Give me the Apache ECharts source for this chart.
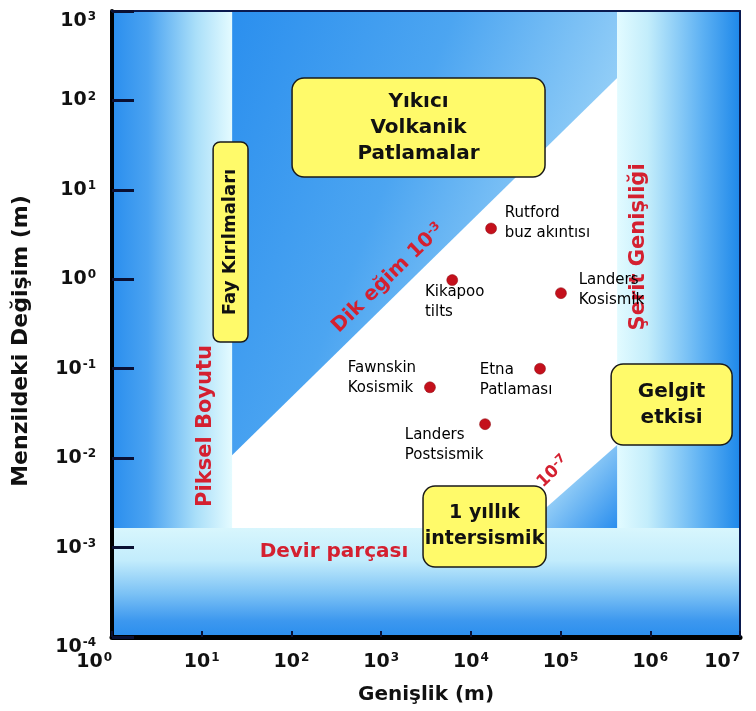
<!DOCTYPE html>
<html><head><meta charset="utf-8">
<script src="https://cdn.jsdelivr.net/npm/echarts@6/dist/echarts.min.js"></script>
<style>html,body{margin:0;padding:0;background:#fff}#c{width:756px;height:711px}</style>
</head><body><div id="c"></div>
<script>
// ---------- data ----------
const xTickExponents = [0, 1, 2, 3, 4, 5, 6, 7];
const yTickExponents = [-4, -3, -2, -1, 0, 1, 2, 3];
const pointNames  = ['Rutford\nbuz akıntısı', 'Kikapoo\ntilts', 'Landers\nKosismik', 'Fawnskin\nKosismik', 'Etna\nPatlaması', 'Landers\nPostsismik'];
const pointWidth  = [1.68e4, 6.2e3, 1.01e5, 3.5e3, 5.9e4, 1.44e4];   // Genişlik (m)
const pointChange = [3.7, 0.98, 0.70, 0.062, 0.10, 0.024];           // Menzildeki Değişim (m)

// region limits (data units)
const pixelSizeLimit  = 21.8;     // Piksel Boyutu (m)
const swathWidthLimit = 4.27e5;   // Şerit Genişliği (m)
const cycleSliceLimit = 1.66e-3;  // Devir parçası (m)
const steepSlopeLine  = [[21.8, 0.0108], [4.27e5, 178]];
const lowSlopeLine    = [[3.82e4, 1.66e-3], [4.27e5, 0.014]];

// annotation boxes (data units: [xmin, xmax, ymin, ymax])
const boxVolcano   = [101.6, 6.71e4, 13.9, 178];
const boxFault     = [13.4, 32.8, 0.199, 34.3];
const boxTide      = [3.66e5, 8.17e6, 0.0140, 0.113];
const boxInterseis = [2.93e3, 6.89e4, 6.07e-4, 4.88e-3];

// free text anchors (data units)
const txtPixel  = [10.9, 0.0229];
const txtSwath  = [7.31e5, 2.30];
const txtSteep  = [1194, 1.03];
const txtLow    = [8.25e4, 7.0e-3];
const txtCycle  = [298, 8.9e-4];

const xMin = 1, xMax = 1e7, yMin = 1e-4, yMax = 1e3;

// ---------- styles ----------
const FONT = '"DejaVu Sans", Arial, sans-serif';
const RED = '#d42030';
const G = echarts.graphic.LinearGradient;

const regions = [
  { pts: [[pixelSizeLimit, yMax], [swathWidthLimit, yMax], [swathWidthLimit, steepSlopeLine[1][1]], [pixelSizeLimit, steepSlopeLine[0][1]]],
    fill: new G(0, 0, 1, 0.35, [{offset: 0, color: '#2b8fee'}, {offset: 0.5, color: '#4ca5f1'}, {offset: 1, color: '#9fd5f8'}]) },
  { pts: [[xMin, cycleSliceLimit], [pixelSizeLimit, cycleSliceLimit], [pixelSizeLimit, yMax], [xMin, yMax]],
    fill: new G(0, 0, 1, 0, [{offset: 0, color: '#2a8eee'}, {offset: 0.3, color: '#4ba3f1'}, {offset: 0.7, color: '#aadff9'}, {offset: 1, color: '#e4fbff'}]) },
  { pts: [[swathWidthLimit, cycleSliceLimit], [xMax, cycleSliceLimit], [xMax, yMax], [swathWidthLimit, yMax]],
    fill: new G(0, 0, 1, 0, [{offset: 0, color: '#e2fbff'}, {offset: 0.25, color: '#c3edfb'}, {offset: 0.7, color: '#5cb0f3'}, {offset: 1, color: '#1e88ea'}]) },
  { pts: [[xMin, yMin], [xMax, yMin], [xMax, cycleSliceLimit], [xMin, cycleSliceLimit]],
    fill: new G(0, 0, 0, 1, [{offset: 0, color: '#d8f6fd'}, {offset: 0.3, color: '#c2ecfc'}, {offset: 0.6, color: '#7cc2f5'}, {offset: 0.85, color: '#3d98ef'}, {offset: 1, color: '#2a8eee'}]) },
  { pts: [lowSlopeLine[0], lowSlopeLine[1], [swathWidthLimit, cycleSliceLimit]],
    fill: new G(0, 0, 1, 1, [{offset: 0, color: '#e0f6fe'}, {offset: 0.5, color: '#8cc9f6'}, {offset: 1, color: '#2a8eee'}]) }
];

const annotations = [
  { kind: 'box', b: boxVolcano, text: 'Yıkıcı\nVolkanik\nPatlamalar', r: 12, size: 20 },
  { kind: 'box', b: boxFault, text: 'Fay Kırılmaları', rot: Math.PI / 2, r: 7, size: 18 },
  { kind: 'box', b: boxTide, text: 'Gelgit\netkisi', r: 12, size: 20 },
  { kind: 'box', b: boxInterseis, text: '1 yıllık\nintersismik', r: 12, size: 19 },
  { kind: 'text', p: txtPixel, text: 'Piksel Boyutu', rot: Math.PI / 2, size: 21 },
  { kind: 'text', p: txtSwath, text: 'Şerit Genişliği', rot: Math.PI / 2, size: 21 },
  { kind: 'text', p: txtCycle, text: 'Devir parçası', rot: 0, size: 20 },
  { kind: 'rich', p: txtSteep, text: '{n|Dik eğim 10}{s|-3}', rot: 0.77, size: 20 },
  { kind: 'rich', p: txtLow, text: '{n|10}{s|-7}', rot: 0.77, size: 17 }
];

const labelLayout = [
  { position: [19.5, -19.5] },
  { position: [-21.5, 7.5] },
  { position: [23.5, -17.5] },
  { position: [-76.5, -23.5] },
  { position: [-54.5, -2.5] },
  { position: [-74.5, 6.5] }
];

function expLabel(v) {
  const e = Math.round(Math.log10(v));
  const list = xTickExponents.concat(yTickExponents);
  return list.indexOf(e) >= 0 ? '{b|10}{s|' + e + '}' : '';
}
const tickRich = {
  b: { fontSize: 19, fontWeight: 'bold', fontFamily: FONT, color: '#111' },
  s: { fontSize: 12, fontWeight: 'bold', fontFamily: FONT, color: '#111', verticalAlign: 'top', padding: [0, 0, 8, 1] }
};
const tickLabelBase = { fontSize: 19, fontWeight: 'bold', fontFamily: FONT, color: '#111', formatter: expLabel, rich: tickRich };

const chart = echarts.init(document.getElementById('c'), null, { renderer: 'canvas' });
chart.setOption({
  animation: false,
  backgroundColor: '#fff',
  grid: { left: 112, right: 16, top: 11, bottom: 74, containLabel: false, outerBoundsMode: 'none' },
  xAxis: [
    { type: 'log', logBase: 10, min: xMin, max: xMax, z: 10,
      name: 'Genişlik (m)', nameLocation: 'middle', nameGap: 48,
      nameTextStyle: { fontSize: 20, fontWeight: 'bold', fontFamily: FONT, color: '#111' },
      axisLine: { lineStyle: { color: '#000', width: 5 } },
      axisTick: { inside: true, length: 6, lineStyle: { color: '#0a1033', width: 2 } },
      axisLabel: Object.assign({ margin: 15, alignMinLabel: 'right', alignMaxLabel: 'right' }, tickLabelBase),
      splitLine: { show: false }, minorTick: { show: false } },
    { type: 'value', position: 'top', min: 0, max: 1, z: 10,
      axisLine: { lineStyle: { color: '#0a1a50', width: 2 } },
      axisTick: { show: false }, axisLabel: { show: false }, splitLine: { show: false } }
  ],
  yAxis: [
    { type: 'log', logBase: 10, min: yMin, max: yMax, z: 10,
      name: 'Menzildeki Değişim (m)', nameLocation: 'middle', nameGap: 80,
      nameTextStyle: { fontSize: 22, fontWeight: 'bold', fontFamily: FONT, color: '#111', padding: [0, 34, 0, 0] },
      axisLine: { lineStyle: { color: '#000', width: 4 } },
      axisTick: { inside: true, length: 22, lineStyle: { color: '#0a1033', width: 3 } },
      axisLabel: Object.assign({ margin: 16, verticalAlignMinLabel: 'top', verticalAlignMaxLabel: 'top' }, tickLabelBase),
      splitLine: { show: false } },
    { type: 'value', position: 'right', min: 0, max: 1, z: 10,
      axisLine: { show: true, lineStyle: { color: '#0a1a50', width: 2 } },
      axisTick: { show: false }, axisLabel: { show: false }, splitLine: { show: false } }
  ],
  series: [
    { type: 'custom', silent: true, z: 1,
      data: regions.map(r => r.pts[0]),
      renderItem: (params, api) => {
        const r = regions[params.dataIndex];
        return { type: 'polygon', shape: { points: r.pts.map(p => api.coord(p)) }, style: { fill: r.fill } };
      } },
    { type: 'custom', silent: true, z: 3,
      data: annotations.map(a => a.kind === 'box' ? [a.b[0], a.b[2]] : a.p),
      renderItem: (params, api) => {
        const a = annotations[params.dataIndex];
        if (a.kind === 'box') {
          const p0 = api.coord([a.b[0], a.b[3]]);
          const p1 = api.coord([a.b[1], a.b[2]]);
          const cx = (p0[0] + p1[0]) / 2, cy = (p0[1] + p1[1]) / 2;
          return { type: 'group', children: [
            { type: 'rect', shape: { x: p0[0], y: p0[1], width: p1[0] - p0[0], height: p1[1] - p0[1], r: a.r },
              style: { fill: '#fffa6a', stroke: '#1a1a1a', lineWidth: 1.5 } },
            { type: 'text', x: cx, y: cy, rotation: a.rot || 0,
              style: { text: a.text, x: 0, y: 0, fill: '#111', font: 'bold ' + (a.size || 19) + 'px ' + FONT, lineHeight: 26,
                       align: 'center', verticalAlign: 'middle', textAlign: 'center', textVerticalAlign: 'middle' } }
          ] };
        }
        const c = api.coord(a.p);
        const sz = a.size || 20;
        const st = { text: a.text, x: 0, y: 0, fill: RED, font: 'bold ' + sz + 'px ' + FONT,
                     align: 'center', verticalAlign: 'middle', textAlign: 'center', textVerticalAlign: 'middle' };
        if (a.kind === 'rich') {
          st.rich = {
            n: { fontSize: sz, fontWeight: 'bold', fontFamily: FONT, fill: RED, color: RED },
            s: { fontSize: 12, fontWeight: 'bold', fontFamily: FONT, fill: RED, color: RED, verticalAlign: 'top', padding: [0, 0, 8, 0] }
          };
        }
        return { type: 'text', x: c[0], y: c[1], rotation: a.rot, style: st };
      } },
    { type: 'scatter', z: 4, symbol: 'circle', symbolSize: 11,
      itemStyle: { color: '#c4101c', borderColor: '#8a0a10', borderWidth: 0.5, opacity: 1 },
      label: { show: true, formatter: '{b}', color: '#000', fontFamily: FONT, fontSize: 15, lineHeight: 20,
               align: 'left', verticalAlign: 'top' },
      data: pointNames.map((n, i) => ({ name: n, value: [pointWidth[i], pointChange[i]], label: labelLayout[i] })) }
  ]
});
</script></body></html>
